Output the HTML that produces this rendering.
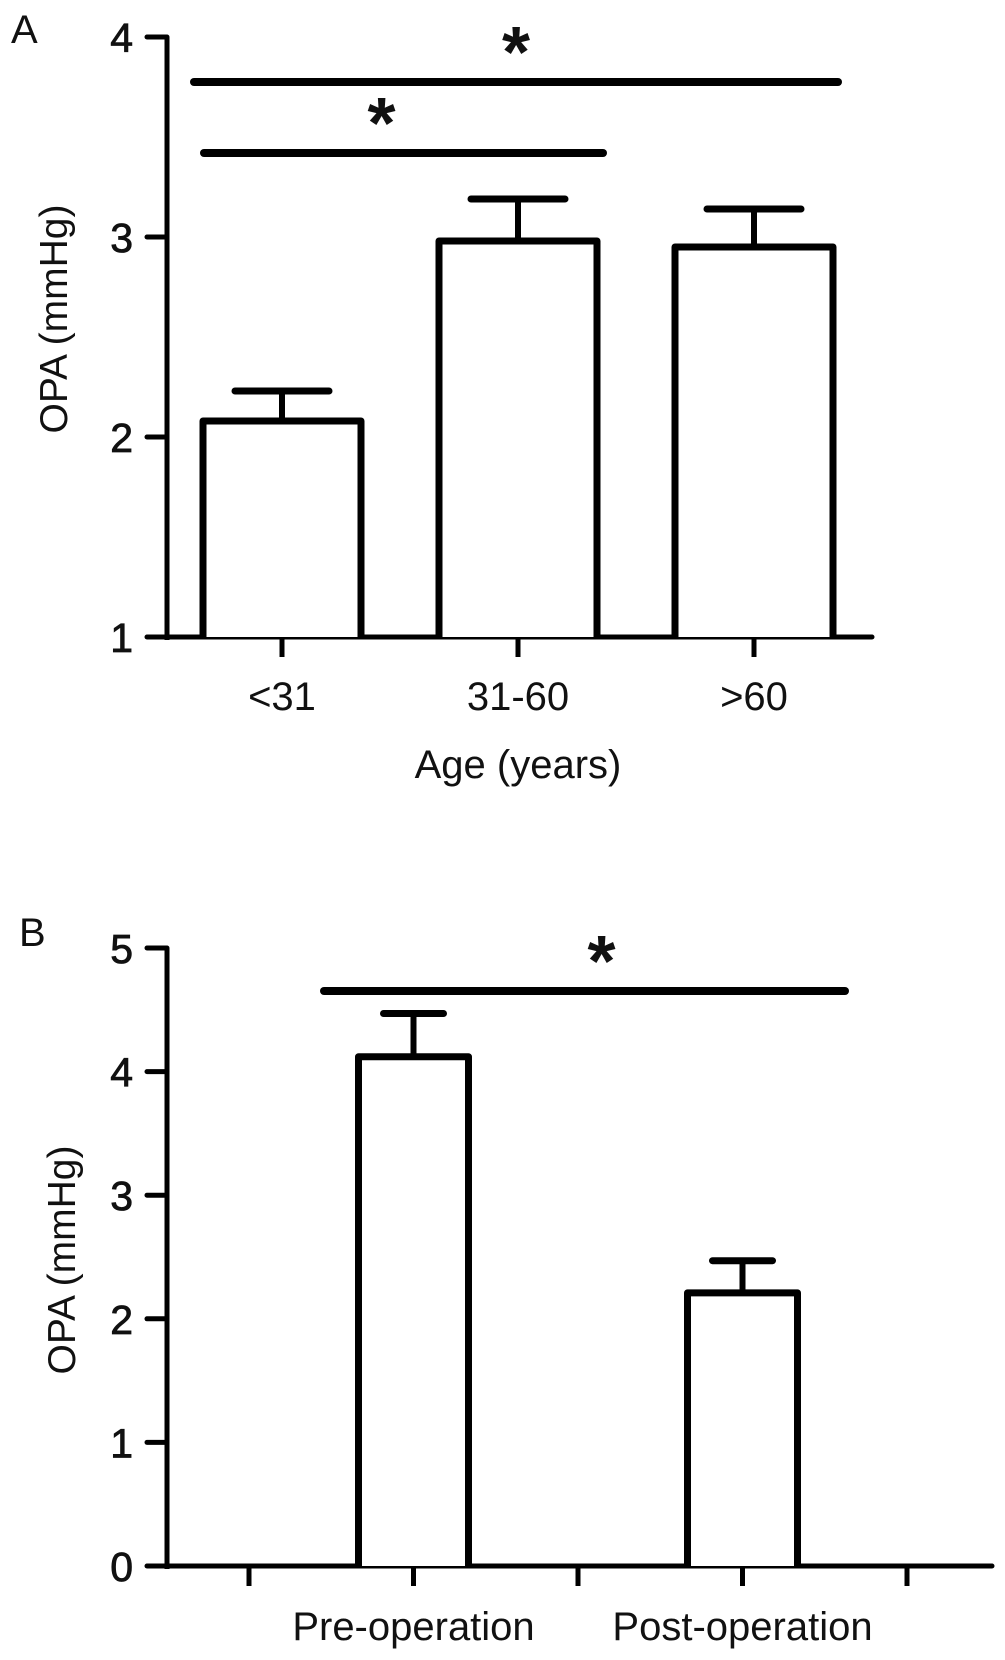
<!DOCTYPE html>
<html><head><meta charset="utf-8"><style>
html,body{margin:0;padding:0;background:#fff;}
svg{display:block;}
text{font-family:"Liberation Sans",Arial,sans-serif;fill:#111;}
</style></head><body>
<svg id="fig" width="1005" height="1660" viewBox="0 0 1005 1660" xmlns="http://www.w3.org/2000/svg">
<text x="11" y="43" font-size="40">A</text>
<text x="19" y="946" font-size="40">B</text>
<g id="pa"></g>
<g id="pb"></g>
</svg>
<script>
// Panel A data
const catsA = ["<31", "31-60", ">60"];
const meansA = [2.08, 2.98, 2.95];
const errA = [0.15, 0.21, 0.19];
const ticksA = [1, 2, 3, 4];
// Panel B data
const catsB = ["Pre-operation", "Post-operation"];
const meansB = [4.12, 2.21];
const errB = [0.35, 0.26];
const ticksB = [0, 1, 2, 3, 4, 5];

const NS = "http://www.w3.org/2000/svg";
function mk(parent, tag, attrs, txt){
  const e = document.createElementNS(NS, tag);
  for (const k in attrs) e.setAttribute(k, attrs[k]);
  if (txt !== undefined) e.textContent = txt;
  parent.appendChild(e);
  return e;
}

function drawPanel(g, cfg){
  const y = v => cfg.y0 + (v - cfg.vmin) * (cfg.y1 - cfg.y0) / (cfg.vmax - cfg.vmin);
  const x = i => cfg.xStart + i * cfg.step;
  let e = mk(g, "line", {x1:cfg.ax, y1:y(cfg.vmax), x2:cfg.ax, y2:y(cfg.vmin)+3, stroke:"#000","stroke-width":5});
  
  
  cfg.ticks.forEach(t => {
    let l = mk(g, "line", {x1:cfg.ax-20, y1:y(t), x2:cfg.ax, y2:y(t), stroke:"#000","stroke-width":5,"stroke-linecap":"round"});
    
    
    let tx = mk(g, "text", {x:cfg.ax-34, y:y(t)+15, "font-size":41, "stroke":"#111","stroke-width":0.8, "text-anchor":"end"}, String(t));
    
    
  });
  e = mk(g, "line", {x1:cfg.ax-2, y1:y(cfg.vmin), x2:cfg.axEnd, y2:y(cfg.vmin), stroke:"#000","stroke-width":5,"stroke-linecap":"round"});
  
  
  cfg.xticks.forEach(i => {
    let l = mk(g, "line", {x1:x(i), y1:y(cfg.vmin), x2:x(i), y2:y(cfg.vmin)+20, stroke:"#000","stroke-width":5});
    
    
  });
  cfg.cats.forEach((c, i) => {
    const cx = x(cfg.catIdx[i]);
    const top = y(cfg.means[i]);
    const et = y(cfg.means[i] + cfg.err[i]);
    let ln = mk(g, "line", {x1:cx, y1:top, x2:cx, y2:et, stroke:"#000","stroke-width":6});
    
    
    let cap = mk(g, "line", {x1:cx-cfg.cap, y1:et, x2:cx+cfg.cap, y2:et, stroke:"#000","stroke-width":7,"stroke-linecap":"round"});
    
    
    let r = mk(g, "path", {d:`M${cx-cfg.bw/2},${y(cfg.vmin)} L${cx-cfg.bw/2},${top} L${cx+cfg.bw/2},${top} L${cx+cfg.bw/2},${y(cfg.vmin)}`, fill:"#fff", stroke:"#000","stroke-width":7,"stroke-linejoin":"round"});
    
    
    let t = mk(g, "text", {x:cx, y:cfg.labelY, "font-size":cfg.labelSize, "text-anchor":"middle"}, c);
    
    
  });
  let yt = mk(g, "text", {x:cfg.ytx, y:cfg.yty, "font-size":39, "text-anchor":"middle", transform:`rotate(-90 ${cfg.ytx} ${cfg.yty})`}, "OPA (mmHg)");
  
  
  cfg.sig.forEach(s => {
    let l = mk(g, "line", {x1:s[0], y1:s[2], x2:s[1], y2:s[2], stroke:"#000","stroke-width":8,"stroke-linecap":"round"});
    
    
    let st = mk(g, "text", {x:(s[0]+s[1])/2 + s[3], y:s[2]+s[4], "font-size":72, "font-weight":"bold", "text-anchor":"middle"}, "*");
    
    
  });
}

drawPanel(document.getElementById("pa"), {
  vmin:1, vmax:4, y0:637, y1:37, ax:167, axEnd:872,
  xStart:282, step:236, xticks:[0,1,2], catIdx:[0,1,2],
  cats:catsA, means:meansA, err:errA, ticks:ticksA,
  bw:158, cap:47, labelY:710, labelSize:40,
  ytx:67, yty:319,
  sig:[[194,838,82,0,-5],[204,603,153,-22,-5]]
});
drawPanel(document.getElementById("pb"), {
  vmin:0, vmax:5, y0:1566, y1:948, ax:167, axEnd:992,
  xStart:249, step:164.5, xticks:[0,1,2,3,4], catIdx:[1,3],
  cats:catsB, means:meansB, err:errB, ticks:ticksB,
  bw:110, cap:30, labelY:1640, labelSize:40,
  ytx:75, yty:1260,
  sig:[[324,845,991,17,-5]]
});
const ax = document.createElementNS(NS, "text");


ax.setAttribute("x", 518); ax.setAttribute("y", 778);
ax.setAttribute("font-size", 40); ax.setAttribute("text-anchor", "middle");
ax.textContent = "Age (years)";
document.getElementById("pa").appendChild(ax);
</script>
</body></html>
